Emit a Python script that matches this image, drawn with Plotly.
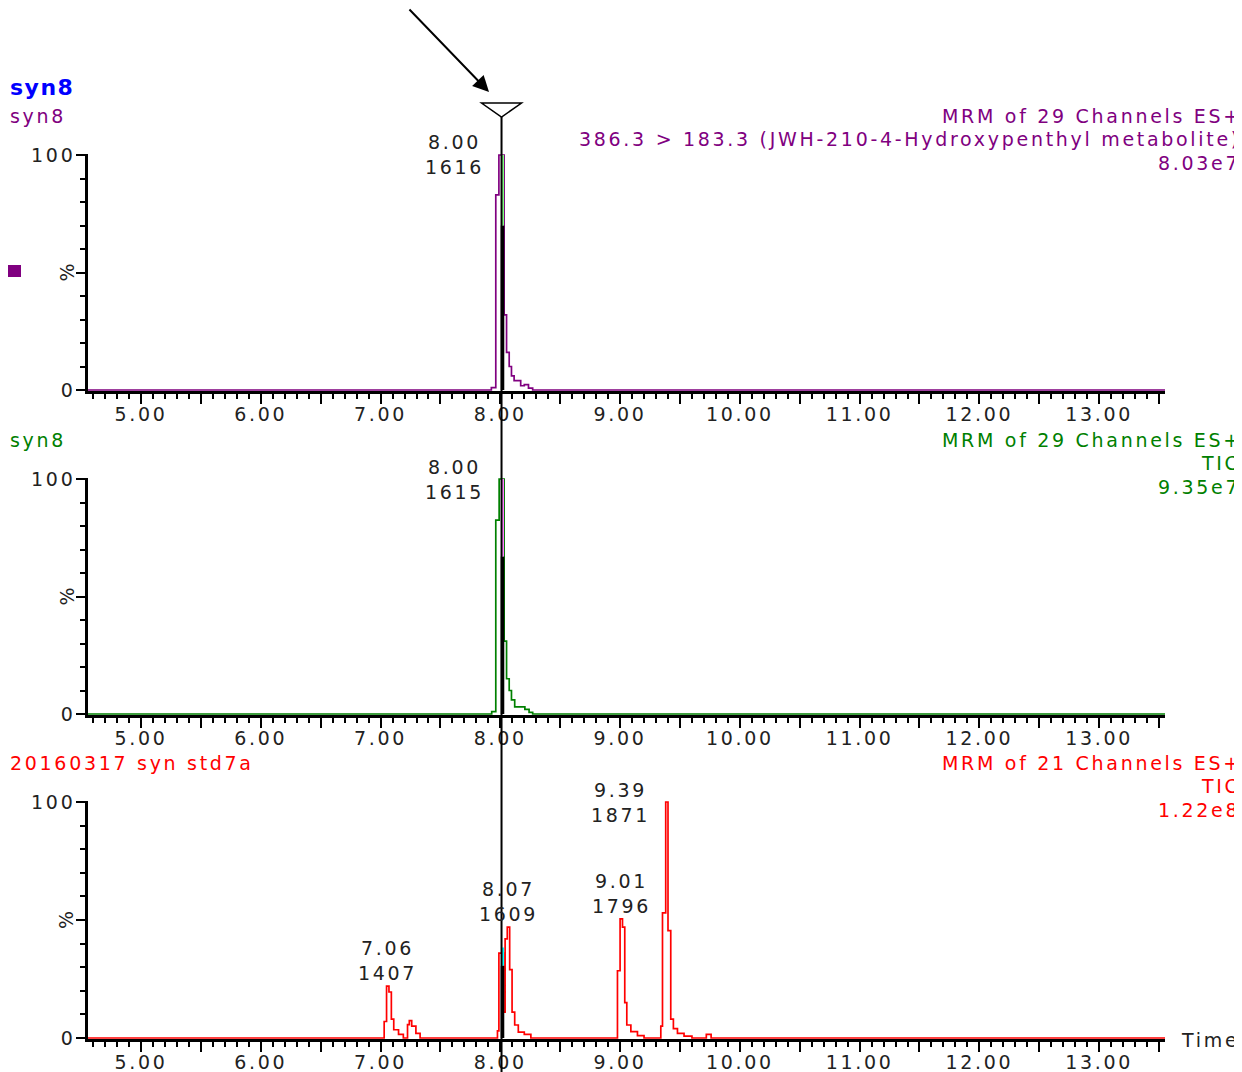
import plotly.graph_objects as go

# ---------------- data ----------------
time_range = [4.557, 13.55]
x_tick_values = [5, 6, 7, 8, 9, 10, 11, 12, 13]
x_tick_labels = ["5.00", "6.00", "7.00", "8.00", "9.00", "10.00", "11.00", "12.00", "13.00"]
y_tick_values = [0, 50, 100]
y_tick_labels = ["0", "", "100"]

# panel 1 : syn8, MRM 386.3 > 183.3
time_p1 = [4.557, 7.925, 7.962, 7.988, 8.032, 8.052, 8.074, 8.093, 8.115, 8.17, 8.2, 8.235, 8.27, 13.55]
pct_p1 = [0, 1.0, 83, 100, 32, 16, 10, 6, 4, 1.8, 2.3, 0.8, 0, 0]

# panel 2 : syn8, TIC
time_p2 = [4.557, 7.928, 7.962, 7.99, 8.032, 8.052, 8.074, 8.093, 8.12, 8.205, 8.24, 8.27, 13.55]
pct_p2 = [0, 1.0, 82.5, 100, 31, 15, 10, 6, 3, 2, 0.7, 0, 0]

# panel 3 : 20160317 syn std7a, TIC
time_p3 = [4.557, 7.03, 7.05, 7.07, 7.09, 7.11, 7.15, 7.19, 7.225, 7.24, 7.26, 7.295, 7.33,
           7.976, 7.988, 8.025, 8.04, 8.058, 8.078, 8.098, 8.12, 8.15, 8.2, 8.255,
           8.978, 9.0, 9.02, 9.039, 9.056, 9.09, 9.145, 9.2,
           9.34, 9.354, 9.381, 9.40, 9.423, 9.445, 9.479, 9.534, 9.6, 9.72, 9.76, 13.55]
pct_p3 = [0, 7, 22, 19.5, 8, 3.5, 1.5, 0, 5.7, 7.4, 5, 2, 0,
          3, 36, 11, 42, 47, 29, 11, 5.5, 2.5, 1.5, 0,
          28.5, 50.5, 47, 15, 5.5, 2.7, 1, 0,
          5, 53, 100, 45.5, 8, 4, 2, 0.8, 0, 1.5, 0, 0]

# peak labels (retention time, area, apex height %)
peak_rt_p1 = [8.00]
peak_area_p1 = [1616]
peak_top_p1 = [100]
peak_rt_p2 = [8.00]
peak_area_p2 = [1615]
peak_top_p2 = [100]
peak_rt_p3 = [7.06, 8.07, 9.01, 9.39]
peak_area_p3 = [1407, 1609, 1796, 1871]
peak_top_p3 = [22, 47, 50.5, 100]

left_titles = ["syn8", "syn8", "20160317 syn std7a"]
right_titles = [
    ["MRM of 29 Channels ES+", "386.3 > 183.3 (JWH-210-4-Hydroxypenthyl metabolite)", "8.03e7"],
    ["MRM of 29 Channels ES+", "TIC", "9.35e7"],
    ["MRM of 21 Channels ES+", "TIC", "1.22e8"],
]
sample_header = "syn8"

cursor_time = 8.01
# cursor overlay artefacts: (black up to %, coloured up to %)
cursor_black_top = [70, 67, 30.6]
cursor_color_top = [100, 100, 38.3]

# ---------------- styling ----------------
OFF = 8                      # default page body margin
W, H = 1242 - OFF, 1072 - OFF
FONT = "DejaVu Sans"
FS = 19
LS = 2.7
TXT = "#222222"
PURPLE = "#800080"
GREEN = "#008000"
RED = "#ff0000"
panel_colors = [PURPLE, GREEN, RED]
overlay_colors = ["#80ff80", "#ff80ff", "#00ffff"]
base_px = [390, 714, 1038]
top_px = [155, 479, 802]
Y_RANGE = [-0.6, 100.6]


def PX(x):
    return (x - OFF) / W


def PY(y):
    return 1 - (y - OFF) / H


def sp(s, ls=LS):
    return f'<span style="letter-spacing:{ls}px">{s}</span>'


panels = [
    (time_p1, pct_p1, peak_rt_p1, peak_area_p1, peak_top_p1),
    (time_p2, pct_p2, peak_rt_p2, peak_area_p2, peak_top_p2),
    (time_p3, pct_p3, peak_rt_p3, peak_area_p3, peak_top_p3),
]

# x tick set: every 0.5 long tick, labels on integers
label_map = dict(zip(x_tick_values, x_tick_labels))
tickvals, ticktext = [], []
for v in x_tick_values:
    for h in (0.0, 0.5):
        tv = v + h
        if time_range[0] <= tv <= time_range[1]:
            tickvals.append(tv)
            ticktext.append(sp(label_map[v]) if h == 0 else "")

fig = go.Figure()
layout = dict(
    width=W, height=H,
    margin=dict(l=0, r=0, t=0, b=0, pad=0),
    paper_bgcolor="white", plot_bgcolor="white",
    showlegend=False,
    font=dict(family=FONT, size=FS, color=TXT),
)
annotations = []
shapes = []

for i, (t, p, rts, areas, tops) in enumerate(panels):
    n = "" if i == 0 else str(i + 1)
    col = panel_colors[i]
    fig.add_trace(go.Scatter(
        x=t, y=p, mode="lines",
        line=dict(color=col, width=1.7, shape="hv"),
        xaxis="x" + n, yaxis="y" + n, hoverinfo="skip",
    ))
    ppu = (base_px[i] - top_px[i]) / 100.0
    dom_bot = base_px[i] - Y_RANGE[0] * ppu
    dom_top = top_px[i] - (Y_RANGE[1] - 100) * ppu
    layout["xaxis" + n] = dict(
        domain=[PX(88), PX(1165)], range=time_range, anchor="y" + n,
        automargin=False,
        showline=True, linecolor="black", linewidth=2.5,
        ticks="outside", ticklen=10, tickwidth=2, tickcolor="black",
        tickmode="array", tickvals=tickvals, ticktext=ticktext,
        tickfont=dict(family=FONT, size=FS, color=TXT),
        ticklabelstandoff=-6,
        showgrid=False, zeroline=False,
        minor=dict(tickmode="linear", tick0=0, dtick=0.1, ticks="outside",
                   ticklen=5, tickwidth=2, tickcolor="black", showgrid=False),
    )
    layout["yaxis" + n] = dict(
        domain=[PY(dom_bot), PY(dom_top)], range=Y_RANGE, anchor="x" + n,
        automargin=False,
        showline=True, linecolor="black", linewidth=2.5,
        ticks="outside", ticklen=9, tickwidth=2, tickcolor="black",
        tickmode="array", tickvals=y_tick_values,
        ticktext=[sp(s) if s else "" for s in y_tick_labels],
        tickfont=dict(family=FONT, size=FS, color=TXT),
        ticklabelstandoff=-3,
        showgrid=False, zeroline=False,
        minor=dict(tickmode="linear", tick0=0, dtick=10, ticks="outside",
                   ticklen=5, tickwidth=2, tickcolor="black", showgrid=False),
    )
    # % label
    annotations.append(dict(
        text="%", x=PX(66), xref="paper", y=50, yref="y" + n,
        textangle=-90, showarrow=False, font=dict(size=FS, color=TXT),
        xanchor="center", yanchor="middle",
    ))
    # left title
    annotations.append(dict(
        text=sp(left_titles[i]), x=PX(8), y=PY(top_px[i] - 39), xref="paper", yref="paper",
        xanchor="left", yanchor="middle", showarrow=False, font=dict(size=FS, color=col),
    ))
    # right titles
    offs = [-39, -16, 8]
    rights = [1244, 1243, 1242]
    for j, s in enumerate(right_titles[i]):
        annotations.append(dict(
            text=sp(s), x=PX(rights[j]), y=PY(top_px[i] + offs[j]), xref="paper", yref="paper",
            xanchor="right", yanchor="middle", showarrow=False, font=dict(size=FS, color=col),
        ))
    # peak labels
    for rt, area, top in zip(rts, areas, tops):
        txt = sp(f"{rt:.2f}") + "<br>" + sp(f"{area}")
        if top >= 95:
            annotations.append(dict(
                text=txt, x=rt, y=top, xref="x" + n, yref="y" + n, xshift=-46,
                xanchor="center", yanchor="middle", showarrow=False,
                font=dict(size=FS, color=TXT), borderpad=1,
            ))
            shapes.append(dict(
                type="line", xref="x" + n, yref="y" + n, xsizemode="pixel", xanchor=rt,
                x0=-14, x1=0, y0=top + 1.3, y1=top + 1.3,
                line=dict(color="black", width=1.5),
            ))
        else:
            annotations.append(dict(
                text=txt, x=rt, y=top, xref="x" + n, yref="y" + n,
                xanchor="center", yanchor="bottom", showarrow=False,
                font=dict(size=FS, color=TXT), borderpad=1,
            ))
    # cursor overlay artefacts
    shapes.append(dict(
        type="line", xref="x" + n, yref="y" + n, xsizemode="pixel", xanchor=cursor_time,
        x0=1, x1=1, y0=0, y1=cursor_black_top[i], line=dict(color="black", width=3.5), layer="above",
    ))
    shapes.append(dict(
        type="line", xref="x" + n, yref="y" + n, xsizemode="pixel", xanchor=cursor_time,
        x0=1.5, x1=1.5, y0=cursor_black_top[i], y1=cursor_color_top[i],
        line=dict(color=overlay_colors[i], width=2), layer="above",
    ))

# cursor line and triangle marker
shapes.append(dict(
    type="line", xref="x", yref="paper", x0=cursor_time, x1=cursor_time,
    y0=0, y1=PY(117), line=dict(color="black", width=2), layer="above",
))
shapes.append(dict(
    type="path", xref="x", yref="paper", xsizemode="pixel", ysizemode="pixel",
    xanchor=cursor_time, yanchor=PY(103), path="M -20,0 L 20,0 L 0,-14 Z",
    line=dict(color="black", width=1.5), fillcolor="white", layer="above",
))
# purple legend square
shapes.append(dict(
    type="rect", xref="paper", yref="paper", x0=PX(8), x1=PX(21), y0=PY(277), y1=PY(265),
    fillcolor=PURPLE, line=dict(width=0),
))

# header sample name
annotations.append(dict(
    text=sp("<b>" + sample_header + "</b>", 1.5), x=PX(8), y=PY(87), xref="paper", yref="paper",
    xanchor="left", yanchor="middle", showarrow=False, font=dict(size=22, color="#0000ff"),
))
# arrow
annotations.append(dict(
    text="", x=PX(489), y=PY(92), xref="paper", yref="paper",
    showarrow=True, ax=-81, ay=-87, arrowhead=2, arrowsize=1.6, arrowwidth=2,
    arrowcolor="black", standoff=0,
))
# Time label
annotations.append(dict(
    text=sp("Time"), x=PX(1179), y=PY(1040), xref="paper", yref="paper",
    xanchor="left", yanchor="middle", showarrow=False, font=dict(size=FS, color=TXT),
))

layout["annotations"] = annotations
layout["shapes"] = shapes
fig.update_layout(**layout)
fig.write_html("out.html")
